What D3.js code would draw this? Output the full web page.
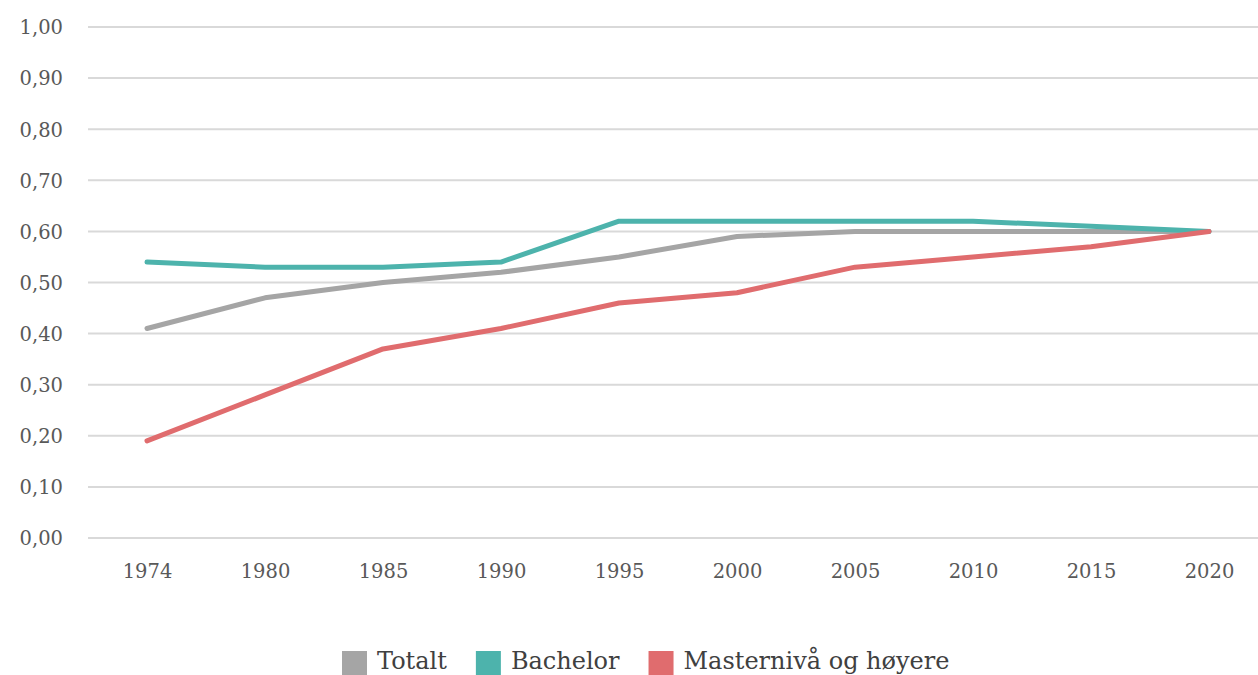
<!DOCTYPE html>
<html lang="no">
  <head>
    <meta charset="utf-8">
    <script src="https://d3js.org/d3.v7.min.js"></script>
    <title>Linjediagram</title>
    <style>
      body { margin: 0; background: #fff; }
      svg { display: block; font-family: "Roboto Slab", "DejaVu Serif", serif; }
      .grid line { stroke: #d9d9d9; stroke-width: 2; }
      .axis text { fill: #595959; font-size: 19.5px; font-family: "Roboto Slab", "DejaVu Serif", serif; }
      .legend text { fill: #404040; font-size: 24px; }
    </style>
  </head>
  <body>
    <div id="chart"></div>
    <script>
      const years = ['1974', '1980', '1985', '1990', '1995', '2000', '2005', '2010', '2015', '2020'];
      const totalt = [0.41, 0.47, 0.50, 0.52, 0.55, 0.59, 0.60, 0.60, 0.60, 0.60];
      const bachelor = [0.54, 0.53, 0.53, 0.54, 0.62, 0.62, 0.62, 0.62, 0.61, 0.60];
      const master = [0.19, 0.28, 0.37, 0.41, 0.46, 0.48, 0.53, 0.55, 0.57, 0.60];
      const yTicks = [0, 0.1, 0.2, 0.3, 0.4, 0.5, 0.6, 0.7, 0.8, 0.9, 1.0];

      const series = [
        {name: 'Totalt', values: totalt, color: '#a5a5a5'},
        {name: 'Bachelor', values: bachelor, color: '#4db3ac'},
        {name: 'Masternivå og høyere', values: master, color: '#e06c6e'}
      ];

      const width = 1258, height = 675;
      const margin = {left: 88, right: -10, top: 27, bottom: 137};

      const svg = d3.select('#chart').append('svg')
        .attr('width', width)
        .attr('height', height);

      const x = d3.scalePoint()
        .domain(years)
        .range([margin.left, width - margin.right])
        .padding(0.5);
      const y = d3.scaleLinear()
        .domain([0, 1])
        .range([height - margin.bottom, margin.top]);

      const fmt = d => d3.format('.2f')(d).replace('.', ',');

      // gridlines
      svg.append('g').attr('class', 'grid')
        .selectAll('line')
        .data(yTicks)
        .join('line')
          .attr('x1', margin.left)
          .attr('x2', width - margin.right)
          .attr('y1', d => y(d))
          .attr('y2', d => y(d));

      const yAxis = svg.append('g')
        .attr('class', 'axis')
        .attr('transform', `translate(${margin.left - 25},0)`)
        .call(d3.axisLeft(y).tickValues(yTicks).tickFormat(fmt).tickSize(0).tickPadding(0));
      yAxis.select('.domain').remove();
      yAxis.selectAll('text').attr('dy', '0.35em');

      const xAxis = svg.append('g')
        .attr('class', 'axis')
        .attr('transform', `translate(0,${height - margin.bottom})`)
        .call(d3.axisBottom(x).tickSize(0).tickPadding(26));
      xAxis.select('.domain').remove();

      const line = d3.line()
        .x((d, i) => x(years[i]))
        .y(d => y(d));

      svg.append('g').selectAll('path')
        .data(series)
        .join('path')
          .attr('d', d => line(d.values))
          .attr('fill', 'none')
          .attr('stroke', d => d.color)
          .attr('stroke-width', 5)
          .attr('stroke-linejoin', 'round')
          .attr('stroke-linecap', 'round');

      // legend
      const legend = svg.append('g').attr('class', 'legend')
        .attr('transform', 'translate(342,651)');
      let lx = 0;
      series.forEach(s => {
        const g = legend.append('g').attr('transform', `translate(${lx},0)`);
        g.append('rect').attr('width', 25).attr('height', 25).attr('fill', s.color);
        const t = g.append('text').attr('x', 35).attr('y', 18).text(s.name);
        lx += 35 + t.node().getComputedTextLength() + 29;
      });
    </script>
  </body>
</html>
